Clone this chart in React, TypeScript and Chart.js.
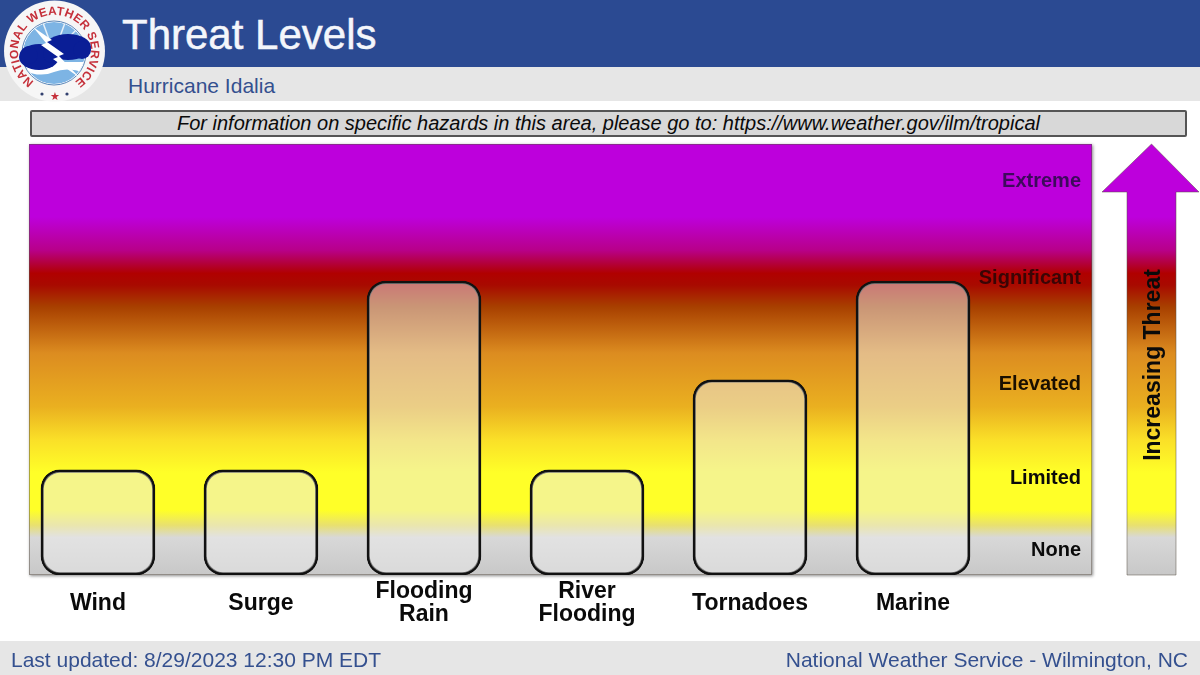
import React, { useEffect, useRef } from "react";
import { Chart, registerables } from "chart.js";

Chart.register(...registerables);

const categories: string[][] = [["Wind"], ["Surge"], ["Flooding", "Rain"], ["River", "Flooding"], ["Tornadoes"], ["Marine"]];
const threatValues = [24.4, 24.4, 68.2, 24.4, 45.3, 68.2];
const levelNames = ["None", "Limited", "Elevated", "Significant", "Extreme"];
const levelPositions = [5.8, 22.3, 44.1, 68.7, 91.2];
const levelColors = ["#0a0a0a", "#0a0a0a", "#1a0f00", "#3a0505", "#3d0a5c"];

const FONT = "'Liberation Sans', Arial, sans-serif";
const PANEL = { left: 29, right: 1092, top: 144, bottom: 575 };
const gradientStops: [number, string][] = [
  [0, "#bd00dc"],
  [0.169, "#bd00dc"],
  [0.246, "#b8008a"],
  [0.3, "#b00000"],
  [0.327, "#a80a00"],
  [0.378, "#a84000"],
  [0.485, "#dc8c20"],
  [0.61, "#eab020"],
  [0.687, "#fae028"],
  [0.763, "#ffff28"],
  [0.85, "#ffff28"],
  [0.885, "#e8e070"],
  [0.913, "#d8d8d8"],
  [1, "#c8c8c8"],
];

function panelGradient(ctx: CanvasRenderingContext2D) {
  const g = ctx.createLinearGradient(0, PANEL.top, 0, PANEL.bottom);
  gradientStops.forEach(([o, c]) => g.addColorStop(o, c));
  return g;
}

const backdrop = {
  id: "backdrop",
  beforeDraw(chart: any) {
    const { ctx, chartArea: a } = chart;
    ctx.save();
    ctx.shadowColor = "rgba(0,0,0,0.45)";
    ctx.shadowBlur = 3;
    ctx.shadowOffsetY = 1;
    ctx.shadowOffsetX = 1;
    ctx.fillStyle = panelGradient(ctx);
    ctx.fillRect(a.left, a.top, a.right - a.left, a.bottom - a.top);
    ctx.restore();
    ctx.save();
    ctx.strokeStyle = "rgba(90,80,70,0.5)";
    ctx.lineWidth = 1;
    ctx.strokeRect(a.left + 0.5, a.top + 0.5, a.right - a.left - 1, a.bottom - a.top - 1);
    // arrow
    const sx0 = 1127, sx1 = 1176, tip = 1151.5, hy = 192;
    ctx.beginPath();
    ctx.moveTo(tip, a.top);
    ctx.lineTo(1199, hy);
    ctx.lineTo(sx1, hy);
    ctx.lineTo(sx1, a.bottom);
    ctx.lineTo(sx0, a.bottom);
    ctx.lineTo(sx0, hy);
    ctx.lineTo(1102, hy);
    ctx.closePath();
    ctx.fillStyle = panelGradient(ctx);
    ctx.fill();
    ctx.strokeStyle = "rgba(90,80,70,0.5)";
    ctx.stroke();
    ctx.translate(1154, 365);
    ctx.rotate(-Math.PI / 2);
    ctx.fillStyle = "#0a0a0a";
    ctx.font = `bold 23px ${FONT}`;
    ctx.textAlign = "center";
    ctx.textBaseline = "middle";
    ctx.fillText("Increasing Threat", 0, 0);
    ctx.restore();
  },
};

function Logo() {
  return (
    <svg width="110" height="105" viewBox="0 0 110 105" style={{ position: "absolute", left: 0, top: 0 }}>
      <defs>
        <path id="ring" d="M 34.1 81.6 A 36.5 36.5 0 1 1 74.9 81.6" fill="none" />
        <clipPath id="inner"><circle cx="54" cy="53" r="31" /></clipPath>
      </defs>
      <circle cx="54.5" cy="51" r="50.5" fill="#f6f6f6" />
      <text fontFamily={FONT} fontWeight="bold" fontSize="12" fill="#c5303a">
        <textPath href="#ring" textLength="186" lengthAdjust="spacing">NATIONAL WEATHER SERVICE</textPath>
      </text>
      <circle cx="54" cy="53" r="32" fill="#ffffff" stroke="#5a86b8" strokeWidth="1" />
      <g clipPath="url(#inner)">
        <circle cx="54" cy="53" r="31" fill="#7db4e4" />
        <path d="M 54 53 L 42 20 M 54 53 L 66 20 M 54 53 L 76 30" stroke="#e6f0f8" strokeWidth="1.5" />
        <path d="M 22 70 Q 40 78 54 72 T 88 74 L 88 62 L 22 62 Z" fill="#ffffff" />
      </g>
      <g fill="#0a1e96">
        <ellipse cx="39" cy="57" rx="20" ry="13" />
        <circle cx="29" cy="55" r="9" />
        <ellipse cx="68" cy="47" rx="23" ry="13" />
        <circle cx="82" cy="50" r="9" />
        <circle cx="52" cy="54" r="9" />
      </g>
      <path d="M 33 27 L 52 40 L 47 42 L 64 54 L 59 56 L 80 78 L 53 59 L 58 57 L 41 45 L 46 43 Z" fill="#ffffff" />
      <circle cx="42" cy="94" r="1.6" fill="#33416f" />
      <circle cx="67" cy="94" r="1.6" fill="#33416f" />
      <text x="54.5" y="100" fontFamily={FONT} fontSize="11" textAnchor="middle" fill="#c5303a">★</text>
    </svg>
  );
}

const abs = (o: React.CSSProperties): React.CSSProperties => ({ position: "absolute", fontFamily: FONT, whiteSpace: "nowrap", ...o });

export default function App() {
  const ref = useRef<HTMLCanvasElement>(null);
  useEffect(() => {
    const chart = new Chart(ref.current!, {
      type: "bar",
      data: {
        labels: categories.map((c) => c.join(" ")),
        datasets: [
          {
            label: "Threat",
            data: threatValues.map((y, x) => ({ x, y })),
            backgroundColor: "rgba(235,235,235,0.5)",
            borderColor: "#111111",
            borderWidth: 2.5,
            borderRadius: 19,
            borderSkipped: false,
            barThickness: 114,
          },
        ],
      },
      options: {
        responsive: false,
        animation: false,
        layout: { padding: { left: PANEL.left, right: 1200 - PANEL.right, top: PANEL.top, bottom: 34 } },
        plugins: { legend: { display: false }, tooltip: { enabled: false }, title: { display: false } },
        scales: {
          x: {
            type: "linear",
            offset: false,
            min: -0.423,
            max: 6.098,
            grid: { display: false },
            border: { display: false },
            afterBuildTicks: (s: any) => {
              s.ticks = categories.map((_, i) => ({ value: i }));
            },
            afterFit: (s: any) => {
              s.height = 66;
            },
            ticks: {
              autoSkip: false,
              maxRotation: 0,
              minRotation: 0,
              crossAlign: "center",
              padding: 9,
              color: "#0a0a0a",
              font: { family: FONT, size: 23, weight: "bold", lineHeight: 1 },
              callback: (v: any) => categories[v],
            },
          },
          y: {
            position: "right",
            min: 0,
            max: 100,
            grid: { display: false },
            border: { display: false },
            afterBuildTicks: (s: any) => {
              s.ticks = levelPositions.map((value) => ({ value }));
            },
            afterFit: (s: any) => {
              s.width = 0;
            },
            ticks: {
              mirror: true,
              padding: -11,
              color: (c: any) => levelColors[c.index],
              font: { family: FONT, size: 20, weight: "bold" },
              callback: (v: any) => levelNames[levelPositions.indexOf(v)],
            },
          },
        },
      },
      plugins: [backdrop],
    } as any);
    return () => chart.destroy();
  }, []);

  return (
    <div style={{ position: "fixed", left: 0, top: 0, width: 1200, height: 675, background: "#fff", overflow: "hidden" }}>
      <div style={{ position: "absolute", left: 0, top: 0, width: 1200, height: 67, background: "#2b4a92" }} />
      <div style={{ position: "absolute", left: 0, top: 67, width: 1200, height: 34, background: "#e6e6e6" }} />
      <div style={{ position: "absolute", left: 0, top: 641, width: 1200, height: 34, background: "#e6e6e6" }} />
      <div style={abs({ left: 122, top: 11, fontSize: 42, lineHeight: "48px", color: "#f4f6fb", WebkitTextStroke: "0.5px #f4f6fb" } as any)}>Threat Levels</div>
      <div style={abs({ left: 128, top: 74, fontSize: 21, lineHeight: "24px", color: "#34508f" })}>Hurricane Idalia</div>
      <div
        style={abs({
          left: 30, top: 110, width: 1153, height: 23, border: "2px solid #555555", borderRadius: 2, background: "#d8d8d8",
          textAlign: "center", fontStyle: "italic", fontSize: 20, lineHeight: "23px", color: "#0a0a0a",
        })}
      >
        For information on specific hazards in this area, please go to: https://www.weather.gov/ilm/tropical
      </div>
      <canvas ref={ref} width={1200} height={675} style={{ position: "absolute", left: 0, top: 0, width: 1200, height: 675 }} />
      <Logo />
      <div style={abs({ left: 11, top: 648, fontSize: 21, lineHeight: "24px", color: "#34508f" })}>Last updated: 8/29/2023 12:30 PM EDT</div>
      <div style={abs({ right: 12, top: 648, fontSize: 21, lineHeight: "24px", color: "#34508f" })}>National Weather Service - Wilmington, NC</div>
    </div>
  );
}
